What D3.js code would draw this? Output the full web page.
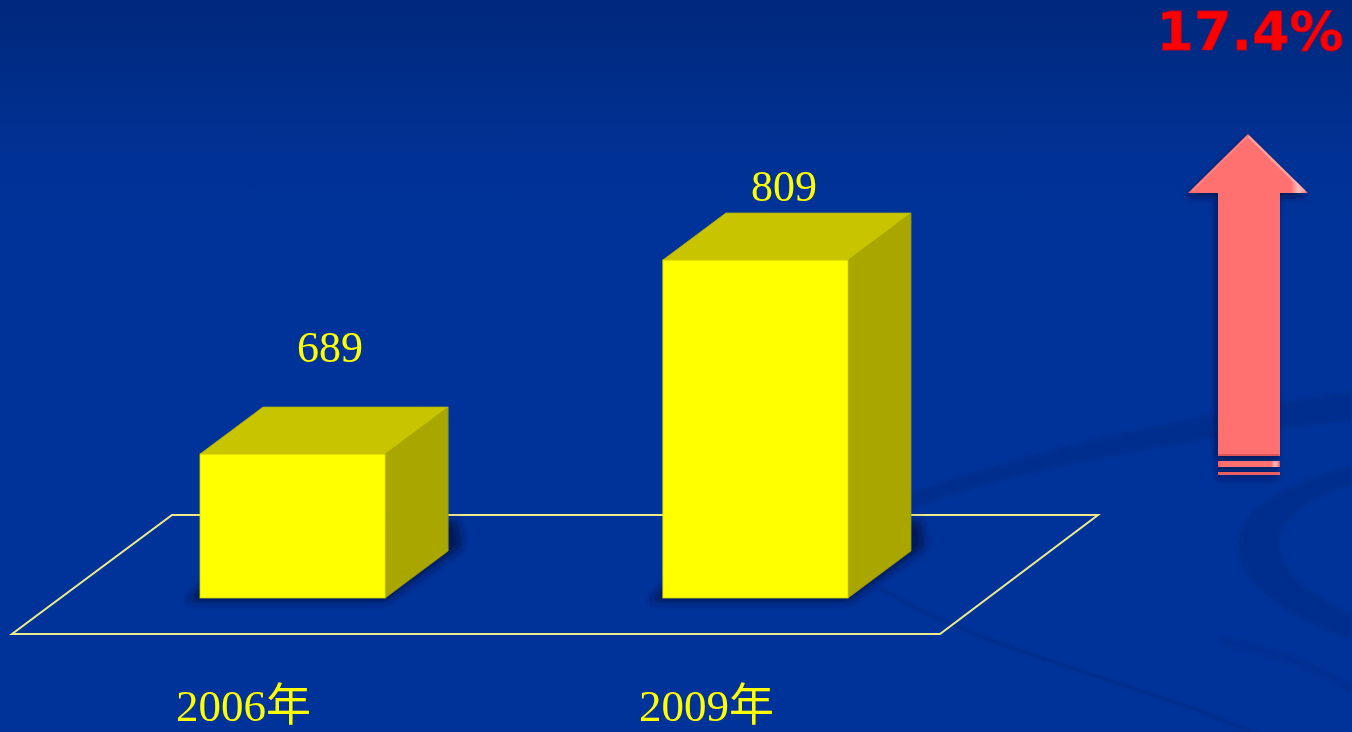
<!DOCTYPE html>
<html>
<head>
<meta charset="utf-8">
<script src="https://cdn.jsdelivr.net/npm/d3@7/dist/d3.min.js"></script>
<style>
  html, body { margin: 0; padding: 0; background: #003399; overflow: hidden; }
  svg { display: block; }
</style>
</head>
<body>
<svg id="chart" width="1352" height="732"></svg>
<script>
// ---- data ----
const categories = ["2006年", "2009年"];
const values = [689, 809];
const valueDomain = [600, 900];

// ---- layout ----
const W = 1352, H = 732;
const baseY = 598;            // floor line the bars stand on
const depth = { dx: 63, dy: -47 };
const labelLift = [92, 59];   // value label distance above the front top edge
const labelShift = [6, -3];   // small horizontal nudge of the value labels

const svg = d3.select("#chart");
const defs = svg.append("defs");

// background gradient
const bg = defs.append("linearGradient").attr("id", "bg").attr("x1", 0).attr("y1", 0).attr("x2", 0).attr("y2", 1);
bg.append("stop").attr("offset", "0").attr("stop-color", "#00287c");
bg.append("stop").attr("offset", "0.2").attr("stop-color", "#003193");
bg.append("stop").attr("offset", "0.3").attr("stop-color", "#003399");
bg.append("stop").attr("offset", "1").attr("stop-color", "#003399");

const blur = defs.append("filter").attr("id", "soft").attr("x", "-20%").attr("y", "-20%").attr("width", "140%").attr("height", "140%");
blur.append("feGaussianBlur").attr("stdDeviation", 4);

const swirlBlur = defs.append("filter").attr("id", "swirlBlur");
swirlBlur.append("feGaussianBlur").attr("stdDeviation", 1.5);

const arrowShadow = defs.append("filter").attr("id", "arrowShadow").attr("x", "-30%").attr("y", "-10%").attr("width", "160%").attr("height", "120%");
arrowShadow.append("feDropShadow").attr("dx", -2).attr("dy", 4).attr("stdDeviation", 3)
  .attr("flood-color", "#001040").attr("flood-opacity", 0.75);

const shaftGrad = defs.append("linearGradient").attr("id", "shaftGrad").attr("x1", 0).attr("x2", 1).attr("y1", 0).attr("y2", 0);
shaftGrad.append("stop").attr("offset", "0").attr("stop-color", "#e85a5a");
shaftGrad.append("stop").attr("offset", "0.05").attr("stop-color", "#ff6f6f");
shaftGrad.append("stop").attr("offset", "0.86").attr("stop-color", "#ff7171");
shaftGrad.append("stop").attr("offset", "0.92").attr("stop-color", "#ffc0c0");
shaftGrad.append("stop").attr("offset", "0.97").attr("stop-color", "#ff8c8c");
shaftGrad.append("stop").attr("offset", "1").attr("stop-color", "#d05050");

svg.append("rect").attr("width", W).attr("height", H).attr("fill", "url(#bg)");

// background swirls
const swirls = svg.append("g").attr("filter", "url(#swirlBlur)");
swirls.append("path")
  .attr("d", "M880,505 C960,470 1150,420 1352,392 L1352,420 C1180,440 1010,470 905,512 Z")
  .attr("fill", "#002d8c").attr("opacity", 0.85);
swirls.append("path")
  .attr("d", "M1352,465 C1280,485 1225,515 1240,560 C1255,600 1310,625 1352,640 L1352,615 C1300,590 1270,560 1282,530 C1295,505 1330,490 1352,485 Z")
  .attr("fill", "#002d8c").attr("opacity", 0.85);
swirls.append("path")
  .attr("d", "M880,588 C960,640 1120,680 1210,715 C1240,728 1255,732 1262,740")
  .attr("fill", "none").attr("stroke", "#002a86").attr("stroke-width", 3).attr("opacity", 0.8);
swirls.append("path")
  .attr("d", "M1220,640 C1270,650 1320,668 1352,690")
  .attr("fill", "none").attr("stroke", "#002f90").attr("stroke-width", 10).attr("opacity", 0.6);

// ---- scales ----
const x = d3.scaleBand().domain(categories).range([200, 848]).paddingInner(0.6).paddingOuter(0);
const y = d3.scaleLinear().domain(valueDomain).range([baseY, baseY - (valueDomain[1] - valueDomain[0]) * 1.617]);
const bw = x.bandwidth();

// ---- floor ----
const floor = [[12, 634], [940, 634], [1098, 515], [172, 515]];
svg.append("path")
  .attr("d", d3.line()(floor) + "Z")
  .attr("fill", "none").attr("stroke", "#ecec8c").attr("stroke-width", 2);

// ---- bars ----
const data = categories.map((c, i) => ({ cat: c, value: values[i], i }));
const bars = svg.append("g").selectAll("g.bar").data(data).join("g").attr("class", "bar");

// soft shadow around the footprint
bars.append("path")
  .attr("filter", "url(#soft)")
  .attr("fill", "#001450").attr("opacity", 0.85)
  .attr("d", d => {
    const x0 = x(d.cat);
    return d3.line()([
      [x0 - 14, baseY + 4], [x0 + bw, baseY + 4],
      [x0 + bw + depth.dx + 14, baseY + depth.dy - 4],
      [x0 + bw + depth.dx + 10, baseY + depth.dy - 30],
      [x0 + depth.dx, baseY + depth.dy - 30]
    ]) + "Z";
  });

// side face
bars.append("path")
  .attr("fill", "#a9a600").attr("stroke", "#9a9700").attr("stroke-width", 0.8)
  .attr("d", d => {
    const x1 = x(d.cat) + bw, yt = y(d.value);
    return d3.line()([[x1, yt], [x1 + depth.dx, yt + depth.dy], [x1 + depth.dx, baseY + depth.dy], [x1, baseY]]) + "Z";
  });

// top face
bars.append("path")
  .attr("fill", "#c8c400").attr("stroke", "#b8b400").attr("stroke-width", 0.8)
  .attr("d", d => {
    const x0 = x(d.cat), yt = y(d.value);
    return d3.line()([[x0, yt], [x0 + depth.dx, yt + depth.dy], [x0 + bw + depth.dx, yt + depth.dy], [x0 + bw, yt]]) + "Z";
  });

// front face
bars.append("rect")
  .attr("x", d => x(d.cat))
  .attr("y", d => y(d.value))
  .attr("width", bw)
  .attr("height", d => baseY - y(d.value))
  .attr("fill", "#ffff00").attr("stroke", "#d6d300").attr("stroke-width", 0.8);

// value labels
bars.append("text")
  .attr("x", d => x(d.cat) + bw / 2 + depth.dx / 2 + labelShift[d.i])
  .attr("y", d => y(d.value) - labelLift[d.i])
  .attr("text-anchor", "middle")
  .attr("font-family", "'Liberation Serif', 'Times New Roman', serif")
  .attr("font-size", 44)
  .attr("fill", "#ffff00")
  .text(d => d.value);

// category labels
svg.append("g").selectAll("text").data(data).join("text")
  .attr("x", d => x(d.cat) + bw / 2 - 49)
  .attr("y", 721)
  .attr("text-anchor", "middle")
  .attr("font-family", "'Liberation Serif', 'Times New Roman', 'Noto Sans CJK SC', serif")
  .attr("font-size", 45)
  .attr("fill", "#ffff00")
  .text(d => d.cat);

// ---- growth arrow ----
const growth = (values[1] - values[0]) / values[0] * 100;
const arrow = svg.append("g").attr("filter", "url(#arrowShadow)");
const arrowPts = [[1248, 134], [1308, 193], [1280, 193], [1280, 456], [1218, 456], [1218, 193], [1188, 193]];
arrow.append("path").attr("d", d3.line()(arrowPts) + "Z").attr("fill", "url(#shaftGrad)");
arrow.append("rect").attr("x", 1218).attr("y", 461).attr("width", 62).attr("height", 6).attr("fill", "url(#shaftGrad)");
arrow.append("rect").attr("x", 1218).attr("y", 472).attr("width", 62).attr("height", 3).attr("fill", "#e86060");

// bevel highlights
const bevel = svg.append("g").attr("fill", "none").attr("stroke-linecap", "round");
bevel.append("path").attr("d", d3.line()([[1249, 137], [1304, 191]])).attr("stroke", "#ffb0b0").attr("stroke-width", 2).attr("opacity", 0.8);
bevel.append("path").attr("d", d3.line()([[1247, 137], [1192, 191]])).attr("stroke", "#ff9090").attr("stroke-width", 1.5).attr("opacity", 0.7);
bevel.append("path").attr("d", d3.line()([[1219, 455], [1279, 455]])).attr("stroke", "#c04848").attr("stroke-width", 1.5).attr("opacity", 0.8);

svg.append("text")
  .attr("x", 1250).attr("y", 50)
  .attr("text-anchor", "middle")
  .attr("font-family", "'DejaVu Sans', Verdana, sans-serif")
  .attr("font-weight", "bold")
  .attr("font-size", 54)
  .attr("fill", "#ff0000")
  .attr("stroke", "#c00020").attr("stroke-width", 0.8)
  .text(growth.toFixed(1) + "%");
</script>
</body>
</html>
